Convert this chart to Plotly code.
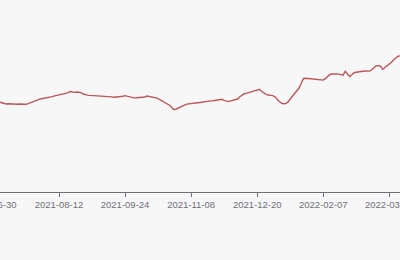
import pandas as pd
import plotly.graph_objects as go

# ---- data -------------------------------------------------------------
START_DATE = "2021-06-30"
HOLIDAYS = ["2021-07-05", "2021-09-06", "2021-10-11",
            "2022-01-31", "2022-02-01", "2022-02-02", "2022-02-03", "2022-02-04"]

VALUES = [
    0.940, 0.937, 0.935, 0.933, 0.922, 0.912, 0.910, 0.912, 0.910, 0.908,
    0.910, 0.907, 0.910, 0.908, 0.910, 0.907, 0.914, 0.924, 0.932, 0.940,
    0.948, 0.957, 0.962, 0.965, 0.969, 0.972, 0.978, 0.984, 0.992, 0.996,
    1.001, 1.006, 1.012, 1.017, 1.021, 1.035, 1.028, 1.026, 1.030, 1.027,
    1.024, 1.010, 1.002, 0.999, 0.996, 0.995, 0.993, 0.994, 0.992, 0.990,
    0.989, 0.986, 0.984, 0.983, 0.981, 0.978, 0.979, 0.982, 0.984, 0.988,
    0.994, 0.989, 0.980, 0.974, 0.971, 0.972, 0.973, 0.972, 0.973, 0.980,
    0.990, 0.986, 0.987, 0.982, 0.972, 0.963, 0.952, 0.941, 0.929, 0.917,
    0.900, 0.882, 0.856, 0.858, 0.870, 0.881, 0.890, 0.899, 0.909, 0.913,
    0.916, 0.918, 0.920, 0.922, 0.925, 0.929, 0.935, 0.939, 0.940, 0.941,
    0.943, 0.947, 0.950, 0.953, 0.957, 0.947, 0.938, 0.934, 0.942, 0.950,
    0.954, 0.960, 0.980, 0.997, 1.010, 1.017, 1.024, 1.033, 1.041, 1.044,
    1.047, 1.056, 1.037, 1.020, 1.007, 1.000, 0.998, 0.994, 0.985, 0.957,
    0.935, 0.920, 0.912, 0.914, 0.931, 0.960, 0.987, 1.006, 1.035, 1.070,
    1.115, 1.165, 1.168, 1.165, 1.160, 1.158, 1.157, 1.155, 1.154, 1.152,
    1.149, 1.164, 1.182, 1.205, 1.210, 1.213, 1.211, 1.209, 1.206, 1.198,
    1.238, 1.215, 1.184, 1.202, 1.223, 1.228, 1.233, 1.235, 1.237, 1.240,
    1.240, 1.239, 1.252, 1.272, 1.290, 1.294, 1.288, 1.258, 1.275, 1.297,
    1.312, 1.328, 1.353, 1.375, 1.388, 1.392, 1.398,
]

DATES = [d.strftime("%Y-%m-%d") for d in pd.date_range(
    START_DATE, periods=len(VALUES),
    freq=pd.offsets.CustomBusinessDay(holidays=HOLIDAYS))]

TICK_LABELS = ["2021-06-30", "2021-08-12", "2021-09-24", "2021-11-08",
               "2021-12-20", "2022-02-07", DATES[180]]

X_VIEW = [3.206, 184.86]      # visible window (category index units)
Y_VIEW = [0.03, 1.95]

# ---- styles -----------------------------------------------------------
BG = "#f7f7f7"
LINE_COLOR = "#bf5557"
AXIS_COLOR = "#6e7079"
FONT = dict(family="Liberation Sans, Arial, sans-serif", size=9.5, color="#6e7079")

fig = go.Figure()
fig.add_trace(go.Scatter(
    x=DATES, y=VALUES, mode="lines",
    line=dict(color=LINE_COLOR, width=1.4),
    hoverinfo="skip", showlegend=False,
))

# tick labels whose tick lies just outside the visible window (partially cut)
for lab in TICK_LABELS:
    idx = DATES.index(lab)
    if idx < X_VIEW[0] or idx > X_VIEW[1]:
        fig.add_annotation(
            x=(idx - X_VIEW[0]) / (X_VIEW[1] - X_VIEW[0]), xref="paper",
            y=0, yref="paper", yanchor="top", xanchor="center",
            yshift=-5, text=lab, showarrow=False, font=FONT,
        )

fig.update_layout(
    width=400, height=260,
    margin=dict(l=0, r=0, t=0, b=68, autoexpand=False),
    paper_bgcolor=BG, plot_bgcolor=BG,
    xaxis=dict(
        type="category", range=X_VIEW, automargin=False,
        tickmode="array", tickvals=[t for t in TICK_LABELS if t in DATES],
        ticktext=[t for t in TICK_LABELS if t in DATES],
        showgrid=False, zeroline=False,
        showline=True, linecolor=AXIS_COLOR, linewidth=1,
        ticks="outside", ticklen=4, tickcolor=AXIS_COLOR, tickwidth=1,
        tickfont=FONT, ticklabeloverflow="allow", tickangle=0,
    ),
    yaxis=dict(range=Y_VIEW, visible=False, automargin=False,
               showgrid=False, zeroline=False),
)

fig.write_html("out.html", config={"displayModeBar": False, "staticPlot": True})
